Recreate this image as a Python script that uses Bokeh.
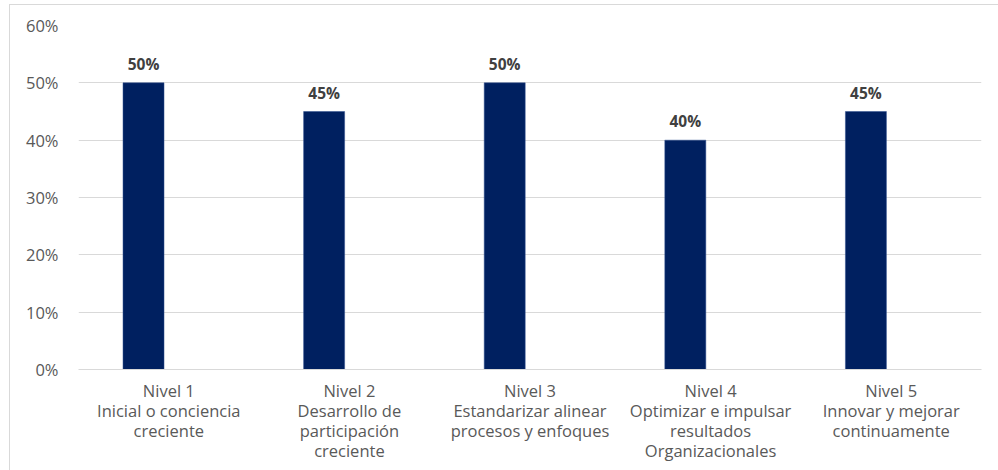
import numpy as np
from bokeh.plotting import figure
from bokeh.models import (ColumnDataSource, Range1d, NumeralTickFormatter,
                          FixedTicker, LinearAxis)
from bokeh.transform import dodge
from bokeh.core.properties import value
from bokeh.embed import file_html
from bokeh.resources import INLINE

levels = ["Nivel 1", "Nivel 2", "Nivel 3", "Nivel 4", "Nivel 5"]
descriptions = [
    ["Inicial o conciencia", "creciente"],
    ["Desarrollo de", "participación", "creciente"],
    ["Estandarizar alinear", "procesos y enfoques"],
    ["Optimizar e impulsar", "resultados", "Organizacionales"],
    ["Innovar y mejorar", "continuamente"],
]
values = [0.50, 0.45, 0.50, 0.40, 0.45]
labels = ["50%", "45%", "50%", "40%", "45%"]
y_ticks = [0.0, 0.1, 0.2, 0.3, 0.4, 0.5, 0.6]

FONT = "Open Sans"
TICK_COLOR = "#595959"
LABEL_SIZE = "16.5px"

n_cat = len(levels)
centers = [float(c) for c in np.arange(n_cat) + 0.5]
source = ColumnDataSource(dict(center=centers, val=values, lab=labels))

p = figure(
    x_range=Range1d(0, n_cat),
    y_range=Range1d(0, 0.6),
    width=989, height=466,
    output_backend="svg", toolbar_location=None,
    min_border_left=68, min_border_right=18, min_border_top=20, min_border_bottom=102,
    margin=(4, 0, 0, 9),
    x_axis_type=None,
)
p.styles = {"border-left": "1px solid #d9d9d9", "border-top": "1px solid #d9d9d9",
            "box-sizing": "border-box"}
p.outline_line_color = None
p.background_fill_color = "white"
p.border_fill_color = "white"

p.vbar(x=dodge("center", -0.14), top="val", width=0.227, source=source,
       fill_color="#002060", line_color="#2f4f8f", line_width=0.5)

p.text(x=dodge("center", -0.14), y="val", text="lab", source=source,
       y_offset=-19, text_align="center", text_baseline="alphabetic",
       text_font=value(FONT), text_font_style="bold", text_font_size="15.5px",
       text_color="#404040")

p.yaxis.ticker = FixedTicker(ticks=y_ticks)
p.yaxis.formatter = NumeralTickFormatter(format="0%")
p.yaxis.axis_line_color = None
p.yaxis.major_tick_line_color = None
p.yaxis.minor_tick_line_color = None
p.yaxis.major_tick_out = 0
p.yaxis.major_tick_in = 0
p.yaxis.major_label_standoff = 20
p.yaxis.major_label_text_font = FONT
p.yaxis.major_label_text_font_size = LABEL_SIZE
p.yaxis.major_label_text_color = TICK_COLOR

# category labels: one axis per text line
lines = [levels] + [[d[i] if i < len(d) else " " for d in descriptions]
                    for i in range(max(len(d) for d in descriptions))]
for k, line in enumerate(lines):
    ax = LinearAxis(
        ticker=FixedTicker(ticks=centers),
        major_label_overrides=dict(zip(centers, line)),
        axis_line_color="#d9d9d9" if k == 0 else None,
        major_tick_line_color=None,
        minor_tick_line_color=None,
        major_tick_out=0, major_tick_in=0,
        major_label_standoff=9 if k == 0 else -6,
        major_label_text_font=FONT,
        major_label_text_font_size=LABEL_SIZE,
        major_label_text_color=TICK_COLOR,
    )
    p.add_layout(ax, "below")

p.xgrid.grid_line_color = None
p.ygrid.grid_line_color = "#d9d9d9"
p.ygrid.grid_line_width = 1

open("out.html", "w").write(file_html(p, INLINE))
